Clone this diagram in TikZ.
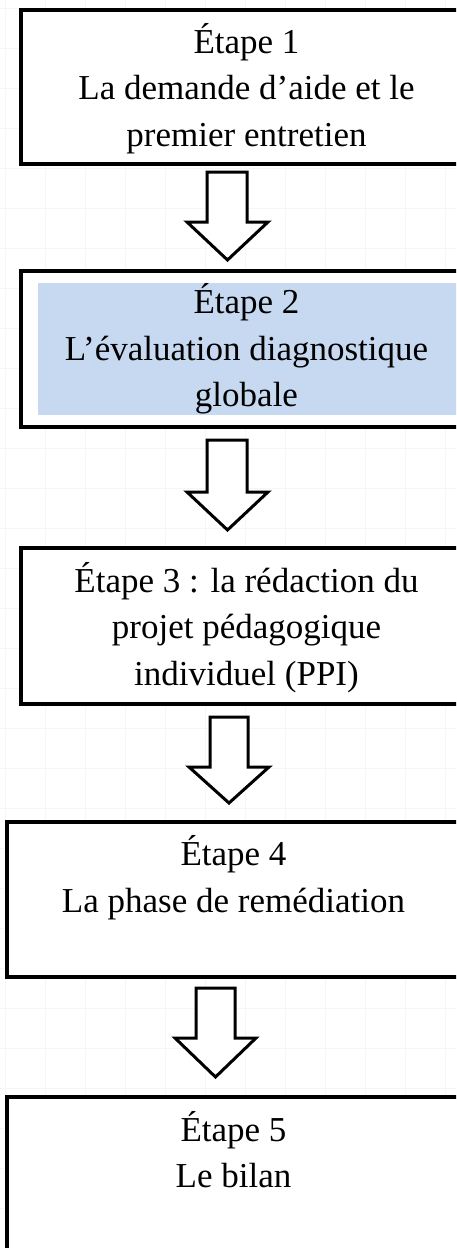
\documentclass[tikz,border=0pt]{standalone}
\usepackage{fontspec}
\setmainfont{Liberation Serif}
\definecolor{gridc}{HTML}{F6F6F6}
\definecolor{hilite}{HTML}{C6D9F1}
\begin{document}
\begin{tikzpicture}[x=1pt,y=-1pt,
  stepbox/.style={draw=none,fill=white,inner sep=0pt,anchor=north west},
  boxline/.style={draw=black,line width=4pt,line join=miter},
  txt/.style={anchor=base,inner sep=0pt,font=\fontsize{35}{46}\selectfont},
  blockarrow/.style={draw=black,line width=3pt,fill=white,line join=miter}]
\useasboundingbox (0,0) rectangle (456,1248);
\fill[white] (0,0) rectangle (456,1248);
% faint background grid
\foreach \gx in {5,45,...,445} \draw[gridc,line width=1pt] (\gx,0) -- (\gx,1248);
\foreach \gy in {8,48,...,1248} \draw[gridc,line width=1pt] (0,\gy) -- (456,\gy);
\begin{scope}
\clip (0,0) rectangle (456,1248);
% boxes (their right sides lie beyond the picture's edge)
\node[stepbox,minimum width=449pt,minimum height=154pt] (b1) at (21,10) {};
\node[stepbox,minimum width=449pt,minimum height=156pt] (b2) at (21,271) {};
\node[stepbox,minimum width=449pt,minimum height=156pt] (b3) at (21,548) {};
\node[stepbox,minimum width=463pt,minimum height=155pt] (b4) at (7,822) {};
\node[stepbox,minimum width=463pt,minimum height=190pt] (b5) at (7,1097) {};
\fill[hilite] (37.7,283) rectangle (b2.east |- 0,415);
\foreach \b in {b1,b2,b3,b4,b5}
  \draw[boxline] (\b.north east) -- (\b.north west) -- (\b.south west) -- (\b.south east);
\end{scope}
% texts
\node[txt] (t11) at (246.5,53) {Étape 1};
\node[txt] (t12) at (246.5,99.5) {La demande d’aide et le};
\node[txt] (t13) at (246.5,146) {premier entretien};
\node[txt] (t21) at (246.5,313) {Étape 2};
\node[txt] (t22) at (246.5,360) {L’évaluation diagnostique};
\node[txt] (t23) at (246.5,406) {globale};
\node[txt] (t31) at (246.5,592) {Étape 3 : la rédaction du};
\node[txt] (t32) at (246.5,638) {projet pédagogique};
\node[txt] (t33) at (246.5,685) {individuel (PPI)};
\node[txt] (t41) at (233.5,865) {Étape 4};
\node[txt] (t42) at (233.5,912) {La phase de remédiation};
\node[txt] (t51) at (233.5,1141) {Étape 5};
\node[txt] (t52) at (233.5,1187) {Le bilan};
% block arrows
\draw[blockarrow] (207,172) -- (247,172) -- (247,222) -- (268,222) -- (227.5,260) -- (187,222) -- (207,222) -- cycle;
\draw[blockarrow] (207,440) -- (247,440) -- (247,492) -- (268,492) -- (227.5,530) -- (187,492) -- (207,492) -- cycle;
\draw[blockarrow] (210,717) -- (248,717) -- (248,767) -- (269,767) -- (229,803) -- (189,767) -- (210,767) -- cycle;
\draw[blockarrow] (196,988) -- (235,988) -- (235,1038) -- (256,1038) -- (215.5,1077) -- (175,1038) -- (196,1038) -- cycle;
\end{tikzpicture}
\end{document}
